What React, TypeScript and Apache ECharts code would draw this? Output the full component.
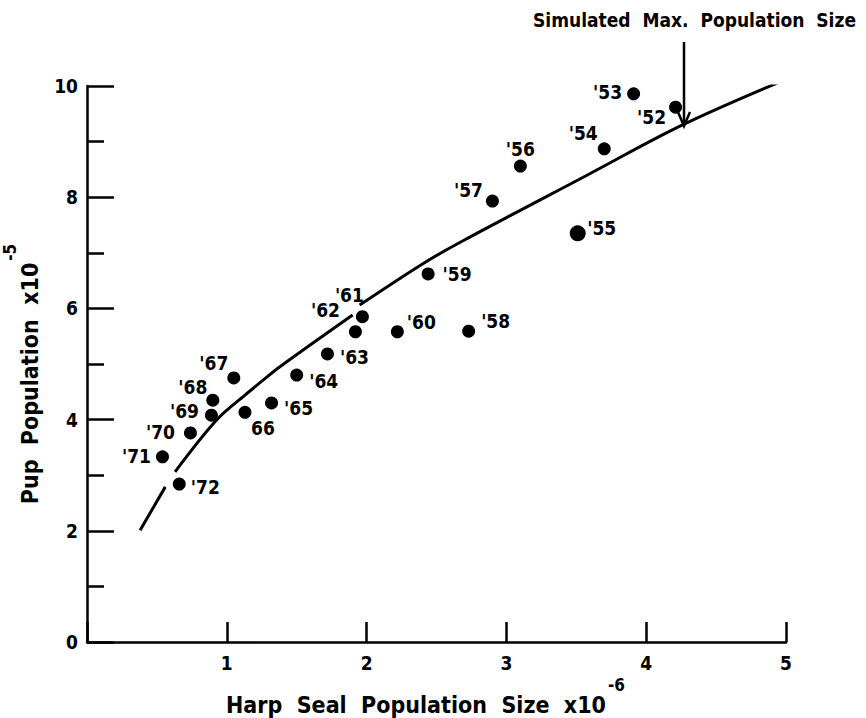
import React, { useEffect, useRef } from "react";
import * as echarts from "echarts";

// Scatter data: harp seal population (x10^-6) vs pup population (x10^-5)
const years = ["'53", "'52", "'54", "'56", "'57", "'55", "'59", "'61", "'62", "'60", "'58", "'63", "'64", "'65", "66", "'67", "'68", "'69", "'70", "'71", "'72"];
const sealPop = [3.91, 4.21, 3.70, 3.10, 2.90, 3.51, 2.44, 1.97, 1.92, 2.22, 2.73, 1.72, 1.50, 1.32, 1.13, 1.05, 0.90, 0.89, 0.74, 0.54, 0.66];
const pupPop = [9.86, 9.62, 8.87, 8.56, 7.93, 7.35, 6.62, 5.85, 5.58, 5.58, 5.59, 5.18, 4.80, 4.30, 4.13, 4.75, 4.35, 4.08, 3.76, 3.33, 2.84];

// Label offsets (pixels) for each year label relative to its dot
const labelDx = [-26, -24, -21, 0, -24, 24, 29, -13, -30, 24, 27, 27, 27, 27, 18, -20, -20, -27, -30, -26, 26];
const labelDy = [-2, 10, -16, -17, -11, -5, 0, -22, -22, -10, -10, 3, 6, 5, 16, -15, -13, -4, -1, -1, 3];

// Fitted curve (null = break in the drawn line)
const curveX = [0.38, 0.56, 0.595, 0.63, 0.93, 1.13, 1.26, 1.38, 1.90, 1.925, 1.95, 2.40, 2.67, 3.58, 4.26, 5.01];
const curveY = [2.01, 2.79, null, 3.06, 4.00, 4.44, 4.71, 4.95, 5.88, null, 6.06, 6.80, 7.19, 8.40, 9.30, 10.13];

const xTicks = [0, 1, 2, 3, 4, 5];
const yTicks = [0, 2, 4, 6, 8, 10];

const FONT = "'DejaVu Sans Condensed', 'Liberation Sans Narrow', sans-serif";

export default function App() {
  const ref = useRef<HTMLDivElement>(null);
  useEffect(() => {
    document.body.style.margin = "0";
    const chart = echarts.init(ref.current!, undefined, { renderer: "svg" });
    const scatterData = sealPop.map((x, i) => ({
      value: [x, pupPop[i]],
      name: years[i],
      symbolSize: years[i] === "'55" ? 16 : 13,
      label: { offset: [labelDx[i], labelDy[i]] },
    }));
    const curveData = curveX.map((x, i) => [x, curveY[i] === null ? "-" : curveY[i]]);
    const nameRich = {
      t: { fontFamily: FONT, fontWeight: "bold", fontSize: 23, color: "#000", padding: [18, 0, 0, 0] },
      s: { fontFamily: FONT, fontWeight: "bold", fontSize: 17, color: "#000", padding: [0, 0, 22, 2] },
    };
    chart.setOption({
      animation: false,
      backgroundColor: "#ffffff",
      grid: { left: 87, right: 80, top: 86, bottom: 76, containLabel: false, outerBoundsMode: "none" },
      xAxis: {
        type: "value",
        min: xTicks[0],
        max: xTicks[xTicks.length - 1],
        interval: 1,
        splitLine: { show: false },
        axisLine: { lineStyle: { color: "#000", width: 2.5 } },
        axisTick: { inside: true, length: 20, lineStyle: { color: "#000", width: 2.5 } },
        axisLabel: {
          color: "#000",
          fontFamily: FONT,
          fontWeight: "bold",
          fontSize: 19,
          margin: 11,
          formatter: (v: number) => (v === 0 ? "" : String(v)),
        },
        name: "{t|Harp  Seal  Population  Size  x10}{s|-6}",
        nameLocation: "middle",
        nameGap: 30,
        nameTextStyle: { rich: nameRich, padding: [0, 22, 0, 0] },
      },
      yAxis: {
        type: "value",
        min: yTicks[0],
        max: yTicks[yTicks.length - 1],
        interval: 2,
        splitLine: { show: false },
        axisLine: { lineStyle: { color: "#000", width: 2.5 } },
        axisTick: { inside: true, length: 27, lineStyle: { color: "#000", width: 2.5 } },
        minorTick: { show: true, splitNumber: 2, length: 17, lineStyle: { color: "#000", width: 2.5 } },
        minorSplitLine: { show: false },
        axisLabel: { color: "#000", fontFamily: FONT, fontWeight: "bold", fontSize: 19, margin: 9 },
        name: "{t|Pup  Population  x10}{s|-5}",
        nameLocation: "middle",
        nameGap: 46,
        nameRotate: 90,
        nameTextStyle: { rich: nameRich, padding: [0, 20, 0, 0] },
      },
      series: [
        {
          type: "line",
          data: curveData,
          smooth: 0.35,
          connectNulls: false,
          symbol: "none",
          lineStyle: { color: "#000", width: 3 },
          z: 2,
        },
        {
          type: "scatter",
          data: scatterData,
          symbol: "circle",
          itemStyle: { color: "#000", opacity: 1 },
          label: {
            show: true,
            position: "inside",
            formatter: (p: any) => p.name,
            color: "#000",
            opacity: 1,
            fontFamily: FONT,
            fontWeight: "bold",
            fontSize: 19,
          },
          z: 3,
        },
      ],
      graphic: [
        {
          type: "text",
          left: 533,
          top: 10,
          style: {
            text: "Simulated  Max.  Population  Size",
            fontFamily: FONT,
            fontWeight: "bold",
            fontSize: 19,
            fill: "#000",
          },
        },
        {
          type: "line",
          shape: { x1: 684, y1: 42, x2: 684, y2: 125 },
          style: { stroke: "#000", lineWidth: 2.5 },
        },
        {
          type: "polyline",
          shape: { points: [[678, 112], [684, 126], [690, 112]] },
          style: { stroke: "#000", lineWidth: 2.5, fill: null },
        },
      ],
    });
    return () => chart.dispose();
  }, []);
  return <div ref={ref} style={{ position: "fixed", left: 0, top: 0, width: 866, height: 718 }} />;
}
